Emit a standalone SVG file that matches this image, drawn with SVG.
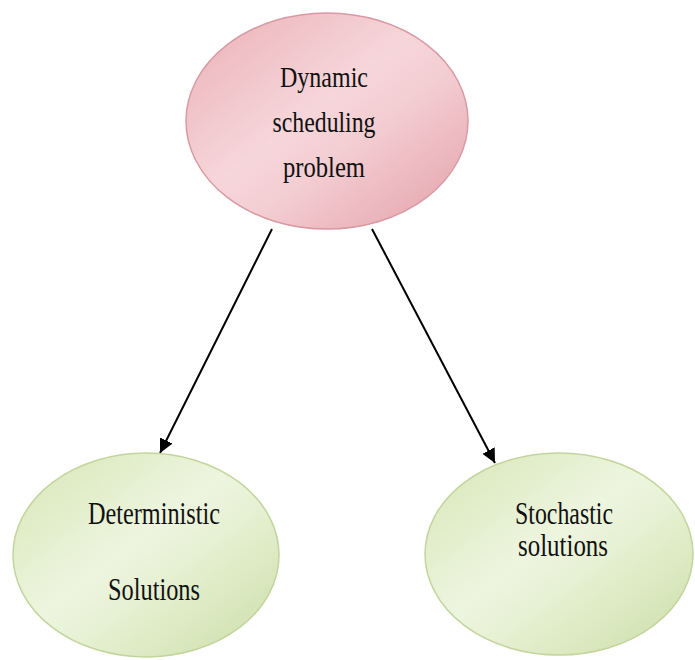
<svg xmlns="http://www.w3.org/2000/svg" width="695" height="660" viewBox="0 0 695 660">
  <defs>
    <linearGradient id="pinkFill" x1="0" y1="0" x2="1" y2="1">
      <stop offset="0" stop-color="#eab0b6"/>
      <stop offset="0.45" stop-color="#f6d6da"/>
      <stop offset="0.6" stop-color="#f3cdd2"/>
      <stop offset="1" stop-color="#e3a0a8"/>
    </linearGradient>
    <linearGradient id="greenFill" x1="0" y1="0" x2="1" y2="1">
      <stop offset="0" stop-color="#d6e6b6"/>
      <stop offset="0.45" stop-color="#eef5df"/>
      <stop offset="0.6" stop-color="#e6f0d2"/>
      <stop offset="1" stop-color="#cbdea6"/>
    </linearGradient>
    <marker id="arrow" viewBox="0 0 10 10" refX="10" refY="5" markerWidth="7" markerHeight="7" markerUnits="strokeWidth" orient="auto">
      <path d="M0,0 L10,5 L0,10 Z" fill="#000"/>
    </marker>
  </defs>
  <style>
    .pink { fill: url(#pinkFill); stroke: #d99aa2; stroke-width: 1.5; }
    .green { fill: url(#greenFill); stroke: #c2d59c; stroke-width: 1.5; }
    .label { font-family: "Liberation Serif", "Times New Roman", serif; fill: #111; text-anchor: middle; }
    .edge { stroke: #000; stroke-width: 2; fill: none; marker-end: url(#arrow); }
  </style>
  <rect width="695" height="660" fill="#fff"/>

  <g id="connectors">
    <line class="edge" x1="272" y1="229" x2="160" y2="453"/>
    <line class="edge" x1="372" y1="229" x2="495" y2="463"/>
  </g>

  <g id="node-problem">
    <ellipse class="pink" cx="327" cy="121" rx="141" ry="108"/>
    <text class="label" font-size="30" x="324" y="87" textLength="88" lengthAdjust="spacingAndGlyphs">Dynamic</text>
    <text class="label" font-size="30" x="324" y="132" textLength="103" lengthAdjust="spacingAndGlyphs">scheduling</text>
    <text class="label" font-size="30" x="324" y="177" textLength="82" lengthAdjust="spacingAndGlyphs">problem</text>
  </g>

  <g id="node-deterministic">
    <ellipse class="green" cx="146" cy="555" rx="133" ry="102"/>
    <text class="label" font-size="31" x="154" y="524" textLength="132" lengthAdjust="spacingAndGlyphs">Deterministic</text>
    <text class="label" font-size="31" x="154" y="600" textLength="92" lengthAdjust="spacingAndGlyphs">Solutions</text>
  </g>

  <g id="node-stochastic">
    <ellipse class="green" cx="559" cy="554" rx="134" ry="101"/>
    <text class="label" font-size="31" x="564" y="524" textLength="98" lengthAdjust="spacingAndGlyphs">Stochastic</text>
    <text class="label" font-size="31" x="563" y="556" textLength="90" lengthAdjust="spacingAndGlyphs">solutions</text>
  </g>
</svg>
